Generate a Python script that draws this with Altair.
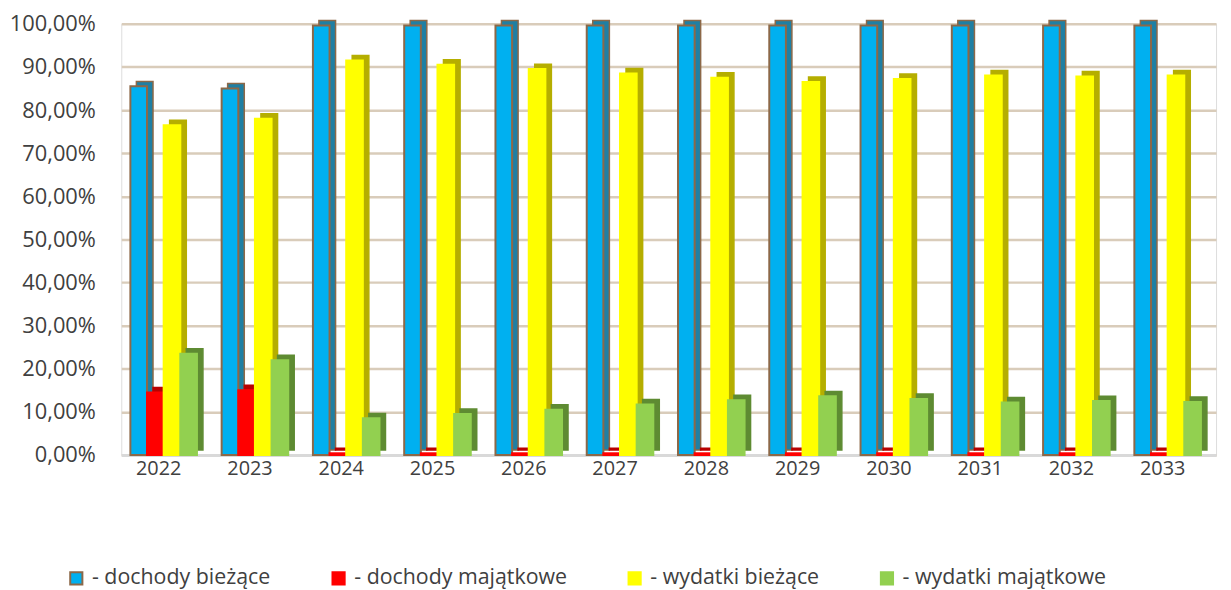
import altair as alt
import pandas as pd

years = ["2022", "2023", "2024", "2025", "2026", "2027", "2028", "2029", "2030", "2031", "2032", "2033"]
series = ["- dochody bieżące", "- dochody majątkowe", "- wydatki bieżące", "- wydatki majątkowe"]
dochody_biezace = [85.5, 85.0, 99.6, 99.6, 99.6, 99.6, 99.6, 99.6, 99.6, 99.6, 99.6, 99.6]
dochody_majatkowe = [14.5, 15.0, 0.4, 0.4, 0.4, 0.4, 0.4, 0.4, 0.4, 0.4, 0.4, 0.4]
wydatki_biezace = [76.5, 78.0, 91.5, 90.5, 89.5, 88.5, 87.5, 86.5, 87.2, 88.0, 87.8, 88.0]
wydatki_majatkowe = [23.5, 22.0, 8.5, 9.5, 10.5, 11.7, 12.7, 13.6, 13.0, 12.2, 12.5, 12.3]

front_colors = ["#00B0F0", "#FF0000", "#FFFF00", "#92D050"]
side_colors = ["#1F7FA3", "#B80000", "#B5AE00", "#5E8B32"]
stroke_colors = ["#8C6848", "#FF0000", "#FFFF00", "#92D050"]
side_strokes = ["#8C6848", "#B80000", "#B5AE00", "#5E8B32"]

rows = []
for vals, s in zip([dochody_biezace, dochody_majatkowe, wydatki_biezace, wydatki_majatkowe], series):
    for y, v in zip(years, vals):
        rows.append({"year": y, "series": s, "value": v, "shade": s + " "})
df = pd.DataFrame(rows)

FONT = "Open Sans"
TXT = "#404040"
FS = 22

x_enc = alt.X("year:N", sort=years, title=None,
              scale=alt.Scale(paddingInner=0.205, paddingOuter=0.1),
              axis=alt.Axis(labelAngle=0, labelFont=FONT, labelFontSize=20, labelColor=TXT,
                            ticks=False, domainColor="#D9D9D9", domainWidth=3,
                            labelPadding=4, labelOffset=-8))
y_enc = alt.Y("value:Q", title=None,
              scale=alt.Scale(domain=[0, 100], nice=False),
              axis=alt.Axis(values=list(range(0, 101, 10)), labelFont=FONT, labelFontSize=FS,
                            labelColor=TXT, ticks=False, domain=False, labelPadding=26,
                            gridColor="#D9CCBA", gridWidth=2.5,
                            labelExpr="replace(format(datum.value, '.2f'), '.', ',') + '%'"))

shade_domain = [s + " " for s in series]

shadow = alt.Chart(df).mark_bar(yOffset=-5, y2Offset=-5, strokeWidth=1.5).encode(
    x=x_enc,
    y=y_enc,
    xOffset=alt.XOffset("series:N", sort=series,
                        scale=alt.Scale(paddingInner=0, paddingOuter=0.18, align=1)),
    color=alt.Color("shade:N", scale=alt.Scale(domain=shade_domain, range=side_colors), legend=None),
    stroke=alt.Stroke("shade:N", scale=alt.Scale(domain=shade_domain, range=side_strokes), legend=None),
)

front = alt.Chart(df).mark_bar(strokeWidth=2).encode(
    x=x_enc,
    y=y_enc,
    xOffset=alt.XOffset("series:N", sort=series,
                        scale=alt.Scale(paddingInner=0, paddingOuter=0.18, align=0)),
    color=alt.Color("series:N", sort=series,
                    scale=alt.Scale(domain=series, range=front_colors),
                    legend=alt.Legend(title=None, orient="none", direction="horizontal",
                                      legendX=-56, legendY=547, columns=4,
                                      symbolType="square", symbolSize=150, symbolStrokeWidth=2,
                                      labelFont=FONT, labelFontSize=21.5, labelColor=TXT,
                                      columnPadding=57, labelOffset=5, labelLimit=400)),
    stroke=alt.Stroke("series:N", sort=series,
                      scale=alt.Scale(domain=series, range=stroke_colors)),
)

chart = alt.layer(shadow, front).resolve_scale(
    color="independent", stroke="independent", xOffset="independent"
).properties(
    width=1102, height=434,
    autosize=alt.AutoSizeParams(type="none"),
    padding={"left": 114, "top": 14, "right": 7, "bottom": 140},
).configure_view(stroke=None).configure(background="white")

chart.save("out.html", embed_options={"renderer": "svg", "actions": False})
